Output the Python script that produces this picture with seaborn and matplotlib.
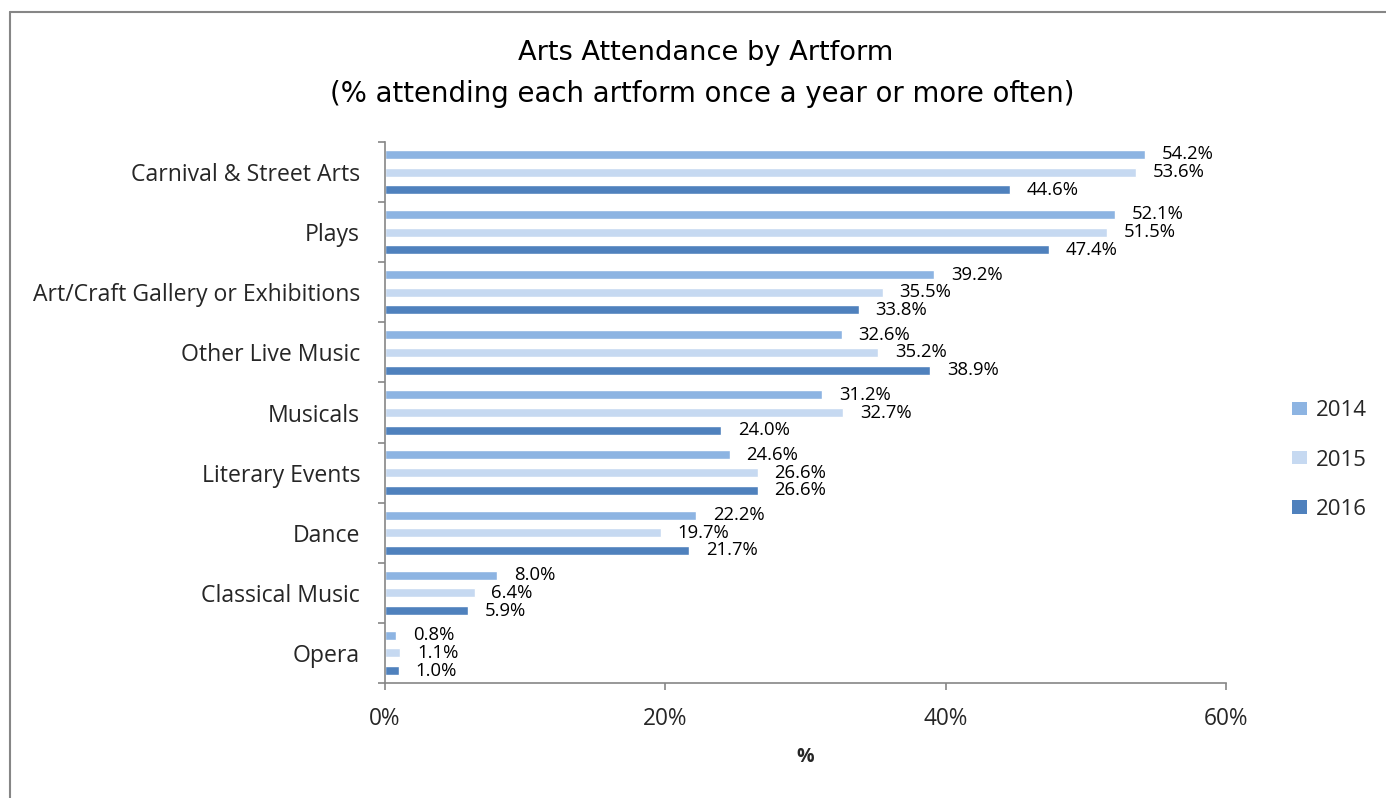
import matplotlib
matplotlib.use("Agg")
import matplotlib.pyplot as plt
from matplotlib.lines import Line2D
from matplotlib.patches import Patch
import seaborn as sns
import pandas as pd
import numpy as np

categories = ["Carnival & Street Arts", "Plays", "Art/Craft Gallery or Exhibitions",
              "Other Live Music", "Musicals", "Literary Events", "Dance",
              "Classical Music", "Opera"]
years = ["2014", "2015", "2016"]
values_2014 = [54.2, 52.1, 39.2, 32.6, 31.2, 24.6, 22.2, 8.0, 0.8]
values_2015 = [53.6, 51.5, 35.5, 35.2, 32.7, 26.6, 19.7, 6.4, 1.1]
values_2016 = [44.6, 47.4, 33.8, 38.9, 24.0, 26.6, 21.7, 5.9, 1.0]
xticks = [0, 20, 40, 60]
colors = ["#8DB4E2", "#C6D9F1", "#4F81BD"]

df = pd.DataFrame({
    "Artform": categories * 3,
    "Year": sum([[y] * len(categories) for y in years], []),
    "Value": values_2014 + values_2015 + values_2016,
})

sns.set_theme(style="white")
plt.rcParams["font.family"] = ["Open Sans", "DejaVu Sans"]

fig = plt.figure(figsize=(13.86, 7.98), dpi=100)
ax = fig.add_axes([385 / 1386, 1 - 683 / 798, 841 / 1386, 541 / 798])

sns.barplot(data=df, x="Value", y="Artform", hue="Year", order=categories,
            hue_order=years, palette=colors, orient="h", width=0.882, gap=0.49,
            ax=ax, legend=False, saturation=1)

# value labels beside each bar
for container in ax.containers:
    for bar in container:
        w = bar.get_width()
        yc = bar.get_y() + bar.get_height() / 2
        ax.annotate(f"{w:.1f}%", xy=(w, yc), xytext=(12, 0),
                    textcoords="offset points", ha="left", va="center",
                    fontsize=13.3, color="#000000")

ax.set_xlim(0, 60)
ax.set_ylim(len(categories) - 0.5, -0.5)
ax.set_xticks(xticks)
ax.set_xticklabels([f"{t}%" for t in xticks], fontsize=16.3)
ax.set_yticks(range(len(categories)))
ax.set_yticklabels(categories, fontsize=16.6)
ax.set_yticks(np.arange(-0.5, len(categories), 1), minor=True)
ax.tick_params(axis="y", which="major", length=0, pad=18)
ax.tick_params(axis="y", which="minor", length=5, width=1.2, color="#868686", direction="out", left=True)
ax.tick_params(axis="x", which="major", length=5, width=1.2, color="#868686", direction="out", bottom=True, pad=12)
ax.set_ylabel("")
ax.set_xlabel("%", fontsize=14, fontweight="bold", labelpad=12)

for side in ["top", "right"]:
    ax.spines[side].set_visible(False)
for side in ["left", "bottom"]:
    ax.spines[side].set_color("#868686")
    ax.spines[side].set_linewidth(1.2)

# legend on the right
handles = [Patch(facecolor=c, edgecolor="none") for c in colors]
fig.legend(handles, years, loc="center left", bbox_to_anchor=(1292 / 1386, 1 - 460 / 798),
           frameon=False, fontsize=16, handlelength=0.68, handleheight=0.55,
           handletextpad=0.38, labelspacing=1.28, borderpad=0, borderaxespad=0)

title_font = ["DejaVu Sans"]
fig.text(0.509, 1 - 53 / 798, "Arts Attendance by Artform", ha="center", va="center",
         fontsize=19.6, color="#000000", family=title_font)
fig.text(0.507, 1 - 94 / 798, "(% attending each artform once a year or more often)",
         ha="center", va="center", fontsize=19.8, color="#000000", family=title_font)

# chart frame
fig.add_artist(Line2D([10 / 1386, 10 / 1386], [0, 1 - 12 / 798], color="#868686", lw=1.5))
fig.add_artist(Line2D([10 / 1386, 1], [1 - 12 / 798, 1 - 12 / 798], color="#868686", lw=1.5))

fig.savefig("out.png", dpi=100)
